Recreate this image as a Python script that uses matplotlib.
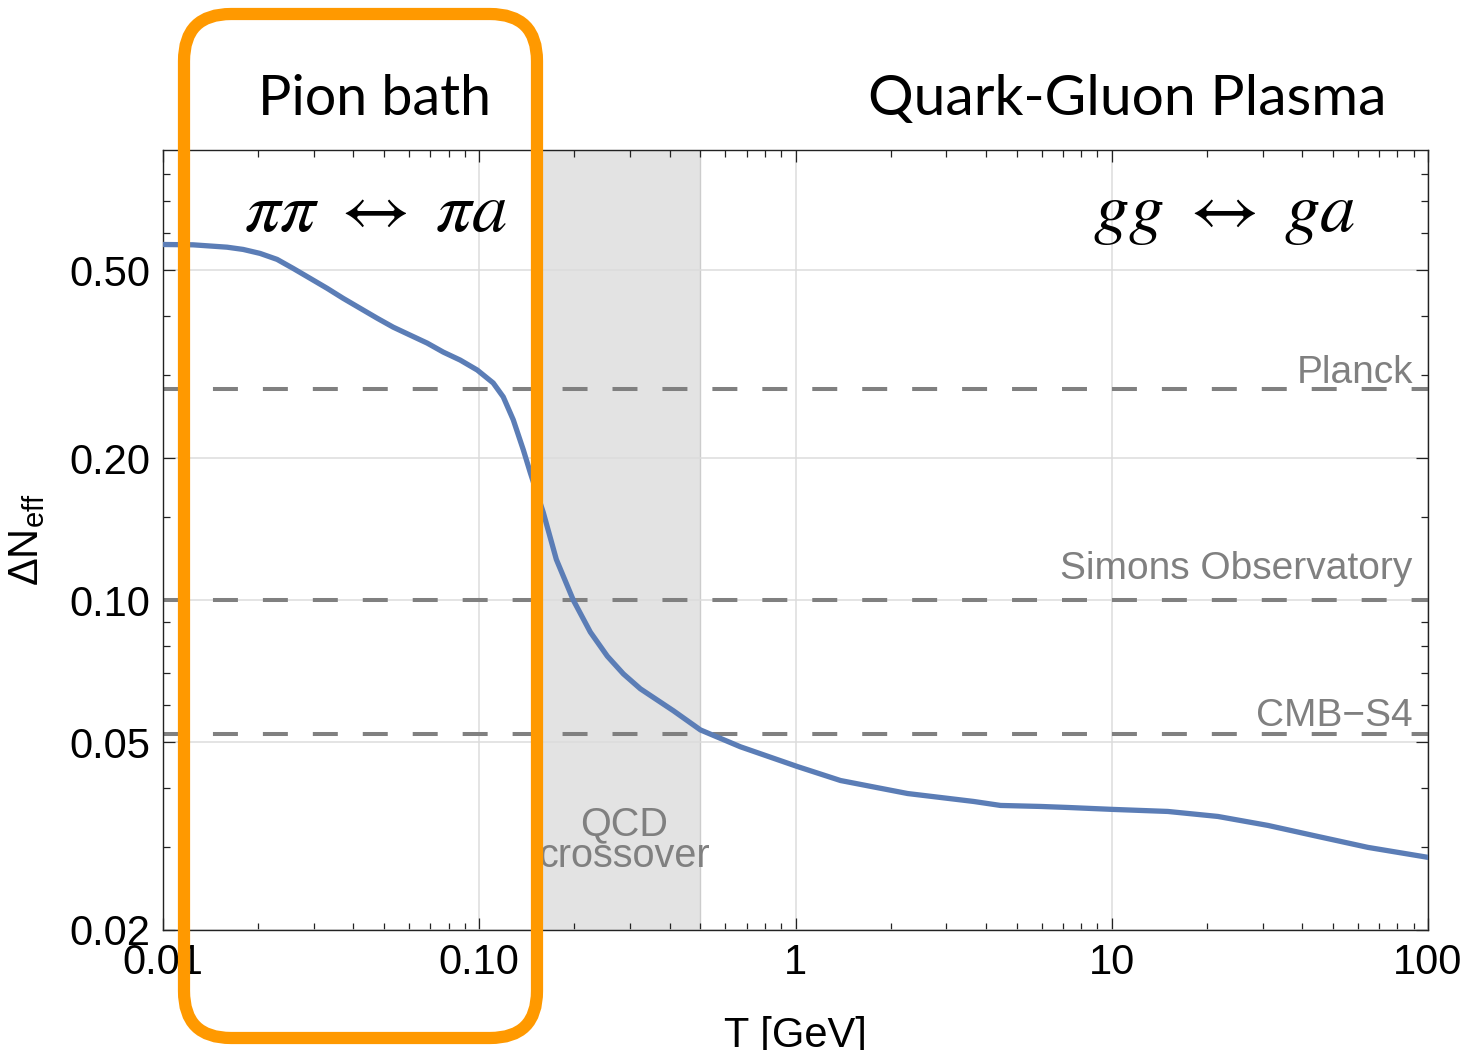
import numpy as np
import matplotlib
matplotlib.use('Agg')
import matplotlib.pyplot as plt
from matplotlib.patches import FancyBboxPatch
from matplotlib.ticker import FixedLocator, FixedFormatter, NullFormatter

plt.rcParams['font.family'] = ['Liberation Sans', 'DejaVu Sans']
plt.rcParams['mathtext.fontset'] = 'custom'
plt.rcParams['mathtext.rm'] = 'Liberation Sans'
plt.rcParams['mathtext.it'] = 'Liberation Sans:italic'

# Delta N_eff vs temperature [GeV]
T = [0.01, 0.01244, 0.01594, 0.01792, 0.02028, 0.02295, 0.02578, 0.02919,
     0.03304, 0.03712, 0.04202, 0.04756, 0.05344, 0.06049, 0.06847, 0.07692,
     0.08708, 0.09856, 0.1107, 0.1191, 0.1281, 0.1378, 0.145, 0.1594, 0.1753,
     0.1984, 0.2245, 0.2541, 0.2856, 0.3232, 0.4112, 0.5005, 0.6699, 1.015,
     1.388, 2.262, 3.66, 4.45, 5.96, 7.26, 10.15, 15.04, 21.65, 31.17, 44.87,
     64.6, 100]
dneff = [0.5675, 0.5666, 0.5601, 0.554, 0.5433, 0.5277, 0.5051, 0.4811,
         0.4582, 0.4364, 0.4157, 0.396, 0.3791, 0.3646, 0.3507, 0.3357,
         0.3228, 0.3075, 0.2887, 0.2697, 0.2412, 0.2084, 0.1864, 0.1534, 0.122,
         0.100, 0.0856, 0.0761, 0.0698, 0.0649, 0.0583, 0.0531, 0.0489, 0.0444,
         0.04148, 0.03893, 0.03745, 0.03673, 0.03655, 0.03637, 0.03602,
         0.03567, 0.03481, 0.03332, 0.03157, 0.02993, 0.02851]

# experimental sensitivities
exp_names = ['Planck', 'Simons Observatory', 'CMB\u2212S4']
exp_values = [0.28, 0.10, 0.052]
exp_label_offsets = [4.3, 15, 5.8]  # points above the line (baseline)

qcd_band = (0.15, 0.5)

x_ticks = [0.01, 0.1, 1, 10, 100]
x_ticklabels = ['0.01', '0.10', '1', '10', '100']
y_ticks = [0.02, 0.05, 0.10, 0.20, 0.50]
y_ticklabels = ['0.02', '0.05', '0.10', '0.20', '0.50']
y_minor = [0.03, 0.04, 0.06, 0.07, 0.08, 0.09, 0.15, 0.3, 0.4, 0.6, 0.7, 0.8]

fig = plt.figure(figsize=(14.71, 10.5), dpi=100)
ax = fig.add_axes([163 / 1471, 120 / 1050, 1265 / 1471, 780 / 1050])
ax.set_xscale('log')
ax.set_yscale('log')
ax.set_xlim(0.01, 100)
ax.set_ylim(0.02, 0.9)

ax.axvspan(*qcd_band, facecolor='#e3e3e3', edgecolor='#cccccc', lw=1, zorder=0.5)
ax.text(np.sqrt(qcd_band[0] * qcd_band[1]) * 1.05, 0.031, 'QCD\ncrossover',
        ha='center', va='center', fontsize=28.5, color='#808080',
        linespacing=0.8, zorder=2)

ax.grid(True, which='major', color='#dcdcdc', lw=1.1, zorder=1)
ax.set_axisbelow(True)

for name, val, off in zip(exp_names, exp_values, exp_label_offsets):
    ax.axhline(val, color='#808080', lw=2.9, dashes=(6.2, 6.2), zorder=2)
    ax.annotate(name, xy=(0.988, val), xycoords=ax.get_yaxis_transform(),
                xytext=(0, off), textcoords='offset points',
                ha='right', va='baseline', fontsize=28, color='#808080', zorder=2)

ax.plot(T, dneff, color='#5b7db6', lw=3.8, zorder=3, solid_joinstyle='round')

ax.xaxis.set_major_locator(FixedLocator(x_ticks))
ax.xaxis.set_major_formatter(FixedFormatter(x_ticklabels))
ax.xaxis.set_minor_locator(FixedLocator(
    [m * 10.0 ** e for e in range(-2, 2) for m in range(2, 10)]))
ax.xaxis.set_minor_formatter(NullFormatter())
ax.yaxis.set_major_locator(FixedLocator(y_ticks))
ax.yaxis.set_major_formatter(FixedFormatter(y_ticklabels))
ax.yaxis.set_minor_locator(FixedLocator(y_minor))
ax.yaxis.set_minor_formatter(NullFormatter())

ax.tick_params(which='both', direction='in', top=True, right=True,
               labelsize=30, width=0.9, color='#222222')
ax.tick_params(which='major', length=8.5, pad=9)
ax.tick_params(which='minor', length=5)
for s in ax.spines.values():
    s.set_linewidth(1.0)
    s.set_color('#222222')

ax.set_xlabel('T [GeV]', fontsize=30, labelpad=24)
ax.set_ylabel(r'$\Delta\mathrm{N}_{\mathrm{eff}}$', fontsize=30, labelpad=16)

# region titles above the frame
fig.text(375 / 1471, 1 - 115 / 1050, 'Pion bath', ha='center', va='baseline',
         fontsize=40, family='Lato')
fig.text(1127 / 1471, 1 - 115 / 1050, 'Quark-Gluon Plasma', ha='center',
         va='baseline', fontsize=41, family='Lato')
fig.text(376 / 1471, 1 - 231 / 1050, r'$\pi\pi\ \leftrightarrow\ \pi a$',
         ha='center', va='baseline', fontsize=51, math_fontfamily='stix')
fig.text(1224 / 1471, 1 - 231 / 1050, r'$gg\ \leftrightarrow\ ga$',
         ha='center', va='baseline', fontsize=51, math_fontfamily='stix')

# orange highlight box around the pion-bath region
box = FancyBboxPatch((1.84, 0.12), 3.53, 10.24,
                     boxstyle='round,pad=0,rounding_size=0.47',
                     transform=fig.dpi_scale_trans, facecolor='none',
                     edgecolor='#ff9900', lw=8.8, zorder=10, clip_on=False)
fig.add_artist(box)

fig.savefig('out.png', dpi=100)
